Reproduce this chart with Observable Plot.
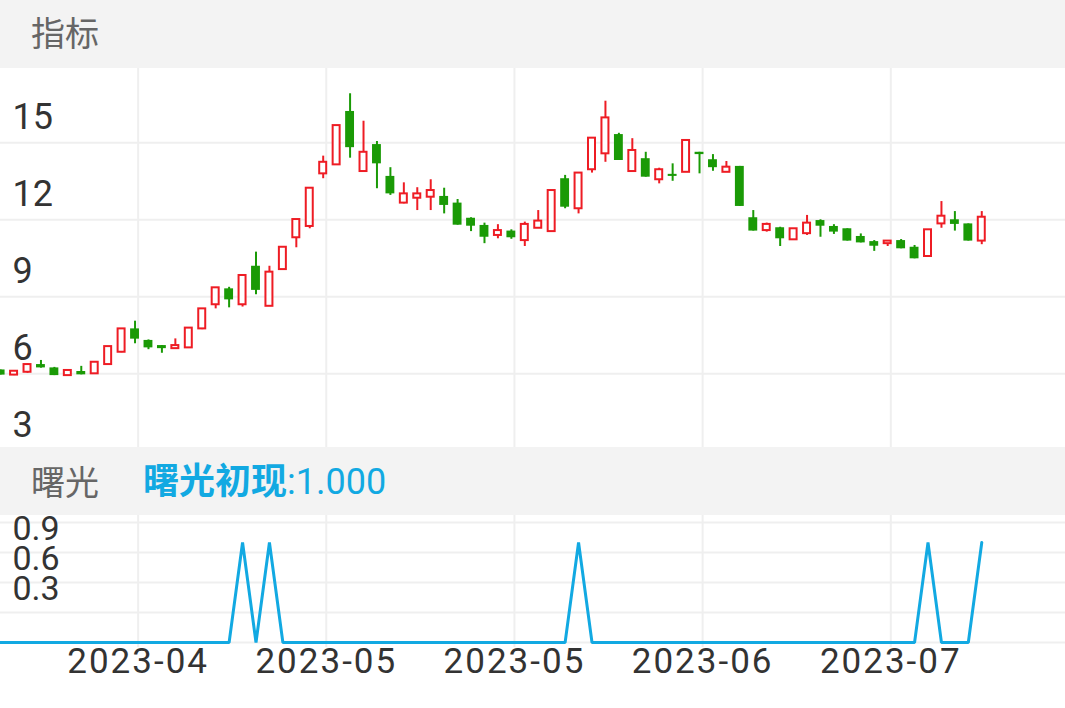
<!DOCTYPE html>
<html><head><meta charset="utf-8">
<script src="https://cdn.jsdelivr.net/npm/d3@7"></script>
<script src="https://cdn.jsdelivr.net/npm/@observablehq/plot@0.6"></script>
<style>
body{margin:0;background:#fff;width:1065px;overflow:hidden;font-family:Roboto,"Noto Sans CJK SC",sans-serif;}
.hdr{height:68px;background:#f3f3f3;position:relative;font-family:Roboto,"Noto Sans CJK SC",sans-serif;font-size:34px;}
.hdr span{position:absolute;top:50%;transform:translateY(-50%);line-height:1;white-space:nowrap;}
#top svg,#bot svg{display:block;}
#top,#bot{position:relative;}
#top{z-index:1;}
.xlab text{letter-spacing:2px;}
</style></head><body>
<div class="hdr" id="h1"><span style="left:31px;color:#666">指标</span></div>
<div id="top"></div>
<div class="hdr" id="h2"><span style="left:31px;color:#666;margin-top:2px">曙光</span><span style="left:143px;color:#12a9e2;font-size:36px;margin-top:1px"><b>曙光初现</b>:1.000</span></div>
<div id="bot"></div>
<script>
// ---- data ----
const open  = [6.15,5.95,6.06,6.36,6.23,5.93,6.09,6.00,6.36,6.84,7.75,7.30,7.10,6.98,7.01,7.75,8.69,9.31,8.69,10.19,
               8.63,10.06,11.30,11.74,13.79,14.14,16.22,13.88,14.93,13.69,12.65,12.84,12.88,12.91,12.65,12.06,11.78,11.39,11.56,11.19,
               11.67,11.54,13.60,12.43,13.95,14.57,15.32,13.88,14.38,13.56,13.77,13.85,14.63,14.34,13.85,14.08,12.08,11.58,11.69,11.22,
               11.46,11.97,11.74,11.65,11.35,11.15,11.07,11.19,10.93,10.57,11.84,12.00,11.84,11.17];
const high  = [6.15,6.10,6.38,6.52,6.25,6.13,6.29,6.45,7.06,7.75,8.05,7.32,7.10,7.36,7.78,8.53,9.35,9.37,9.83,10.74,
               10.19,10.93,12.01,13.23,14.48,15.67,16.91,15.84,15.05,14.03,13.44,13.25,13.56,13.23,12.79,12.08,11.87,11.81,11.61,11.91,
               12.36,13.14,13.73,13.82,15.18,16.62,15.37,15.16,14.63,14.01,14.18,15.09,14.63,14.54,14.27,14.08,12.36,11.87,11.71,11.65,
               12.17,12.00,11.81,11.65,11.45,11.19,11.17,11.23,11.00,11.61,12.71,12.32,11.84,12.32];
const low   = [5.95,5.93,6.02,6.22,5.93,5.93,5.96,6.00,6.36,6.82,7.17,6.94,6.80,6.98,7.01,7.72,8.53,8.57,8.60,9.08,
               8.63,10.06,10.91,11.65,13.60,14.14,14.40,13.86,13.21,12.95,12.62,12.36,12.36,12.23,11.79,11.54,11.07,11.26,11.24,10.96,
               11.67,11.54,12.43,12.23,13.82,14.24,14.31,13.88,13.66,13.40,13.50,13.85,13.79,13.89,13.85,12.52,11.56,11.52,10.96,11.22,
               11.39,11.32,11.43,11.17,11.10,10.77,10.96,10.87,10.48,10.57,11.67,11.56,11.17,11.03];
const close = [5.95,6.10,6.36,6.23,5.93,6.13,5.96,6.45,7.06,7.75,7.35,7.01,6.98,7.10,7.78,8.53,9.35,8.88,9.83,9.25,
               9.96,10.93,12.01,13.23,14.24,15.67,14.81,14.63,14.18,13.01,13.01,13.01,13.14,12.56,11.79,11.75,11.32,11.58,11.30,11.82,
               11.95,13.14,12.49,13.82,15.18,15.97,14.31,14.70,13.66,13.95,13.69,15.09,14.54,14.03,14.05,12.52,11.56,11.82,11.26,11.65,
               11.87,11.75,11.52,11.17,11.10,10.97,11.17,10.87,10.48,11.61,12.14,11.82,11.17,12.10];
// 曙光初现 signal (1 on signal days)
const signal = [0,0,0,0,0,0,0,0,0,0,0,0,0,0,0,0,0,0,1,0,
                1,0,0,0,0,0,0,0,0,0,0,0,0,0,0,0,0,0,0,0,
                0,0,0,1,0,0,0,0,0,0,0,0,0,0,0,0,0,0,0,0,
                0,0,0,0,0,0,0,0,0,1,0,0,0,1];
const priceTicks = [3, 6, 9, 12, 15];
const priceGrid  = [6, 9, 12, 15];
const sigTicks   = [0.3, 0.6, 0.9];
const sigGrid    = [0, 0.3, 0.6, 0.9, 1.2];
const xTickPos    = [10.23, 24.23, 38.23, 52.23, 66.23];
const xTickLabels = ["2023-04", "2023-05", "2023-05", "2023-06", "2023-07"];

// ---- chart ----
const RED = "#ee1c24", GREEN = "#1a9a06", GRID = "#efefef", BLUE = "#12a9e2";
const idx = d3.range(open.length);
const candles = idx.map(i => ({i, o: open[i], h: high[i], l: low[i], c: close[i], up: close[i] >= open[i]}));
const ups = candles.filter(d => d.up), downs = candles.filter(d => !d.up);
const xDomain = [-0.01, 79.23];

const topChart = Plot.plot({
  width: 1065, height: 379, margin: 0,
  x: {domain: xDomain, axis: null},
  y: {domain: [3.129, 17.894], axis: null},
  style: {fontFamily: "Roboto, sans-serif", background: "transparent"},
  marks: [
    Plot.ruleY(priceGrid, {y: d => d, stroke: GRID, strokeWidth: 2}),
    Plot.ruleX(xTickPos, {x: d => d, stroke: GRID, strokeWidth: 2}),
    Plot.ruleX(downs, {x: "i", y1: "l", y2: "h", stroke: GREEN, strokeWidth: 2}),
    Plot.ruleX(ups, {x: "i", y1: "l", y2: "h", stroke: RED, strokeWidth: 2}),
    Plot.rect(downs, {x1: d => d.i - 0.33, x2: d => d.i + 0.33, y1: "o", y2: "c", fill: GREEN}),
    Plot.rect(ups, {x1: d => d.i - 0.26, x2: d => d.i + 0.26, y1: "o", y2: "c", fill: "white", stroke: RED, strokeWidth: 2}),
    Plot.text(priceTicks, {frameAnchor: "left", y: d => d, text: d => String(d), dx: 12, dy: -25.5,
      textAnchor: "start", fontSize: 36, fill: "#333"})
  ]
});
document.getElementById("top").append(topChart);

const botChart = Plot.plot({
  width: 1065, height: 193, marginTop: 0, marginLeft: 0, marginRight: 0, marginBottom: 61,
  x: {domain: xDomain, axis: null},
  y: {domain: [-0.05, 1.27], axis: null},
  style: {fontFamily: "Roboto, sans-serif", background: "transparent", overflow: "visible"},
  marks: [
    Plot.ruleY(sigGrid, {y: d => d, stroke: GRID, strokeWidth: 2}),
    Plot.ruleX(xTickPos, {x: d => d, stroke: GRID, strokeWidth: 2}),
    Plot.line(idx, {x: d => d, y: d => signal[d], stroke: BLUE, strokeWidth: 3, strokeLinejoin: "miter"}),
    Plot.text(sigTicks, {frameAnchor: "left", y: d => d, text: d => d.toFixed(1), dx: 12, dy: -23,
      textAnchor: "start", fontSize: 34, fill: "#333"}),
    Plot.text(xTickPos, {x: d => d, frameAnchor: "bottom", text: (d, i) => xTickLabels[i], dy: 25.5,
      fontSize: 35, fill: "#333", className: "xlab"})
  ]
});
document.getElementById("bot").append(botChart);
</script>
</body></html>
